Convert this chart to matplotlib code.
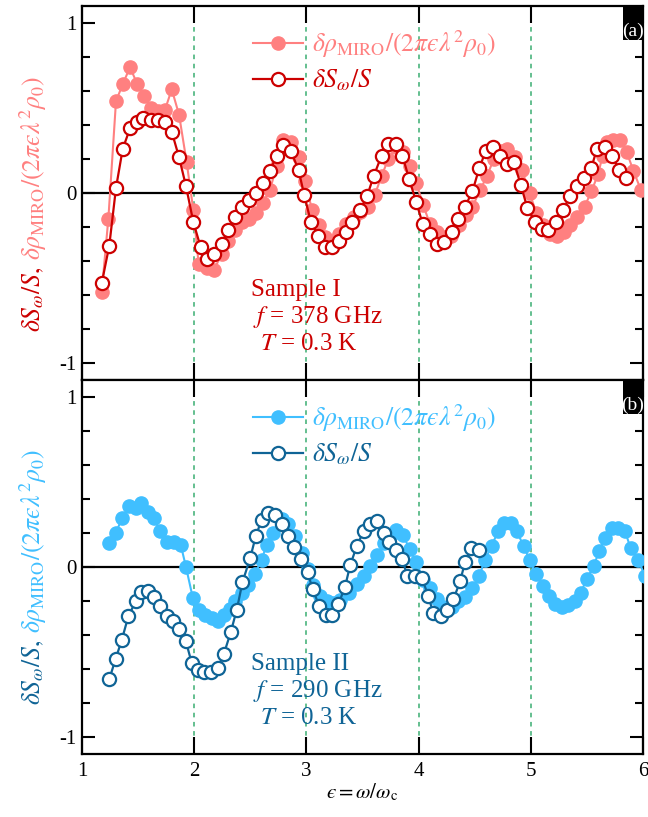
import matplotlib
matplotlib.use("Agg")
import matplotlib.pyplot as plt
from matplotlib.ticker import MultipleLocator, FixedLocator
from matplotlib.patches import Rectangle

plt.rcParams['font.family'] = ['Liberation Serif', 'DejaVu Serif']
plt.rcParams['mathtext.fontset'] = 'stix'

# ---------------- data: panel (a) ----------------
a_miro_x = [1.176, 1.235, 1.303, 1.363, 1.428, 1.493, 1.555, 1.615, 1.68, 1.74, 1.80, 1.865,
            1.933, 1.992, 2.04, 2.11, 2.177, 2.245, 2.304, 2.364, 2.423, 2.49, 2.55, 2.61,
            2.676, 2.735, 2.79, 2.86, 2.93, 2.99, 3.05, 3.11, 3.17, 3.23, 3.29, 3.35, 3.42,
            3.48, 3.55, 3.61, 3.67, 3.73, 3.80, 3.86, 3.92, 3.98, 4.04, 4.10, 4.16, 4.23,
            4.29, 4.36, 4.42, 4.48, 4.55, 4.61, 4.67, 4.73, 4.79, 4.86, 4.92, 4.99, 5.05,
            5.11, 5.17, 5.23, 5.30, 5.35, 5.41, 5.48, 5.54, 5.60, 5.64, 5.675, 5.735, 5.795,
            5.855, 5.915, 5.98]
a_miro_y = [-0.58, -0.15, 0.54, 0.64, 0.74, 0.64, 0.57, 0.50, 0.48, 0.49, 0.61, 0.46,
            0.18, -0.10, -0.42, -0.44, -0.45, -0.36, -0.28, -0.22, -0.17, -0.15, -0.12, -0.06,
            0.02, 0.16, 0.31, 0.30, 0.21, 0.07, -0.10, -0.19, -0.26, -0.28, -0.24, -0.18, -0.14,
            -0.11, -0.08, -0.01, 0.10, 0.20, 0.27, 0.24, 0.16, 0.06, -0.07, -0.18, -0.23, -0.26,
            -0.25, -0.19, -0.13, -0.08, 0.02, 0.10, 0.20, 0.25, 0.26, 0.21, 0.135, 0.0, -0.12,
            -0.19, -0.24, -0.25, -0.23, -0.19, -0.14, -0.08, 0.01, 0.11, 0.22, 0.30, 0.31, 0.31,
            0.24, 0.13, 0.02]

a_noise_x = [1.176, 1.243, 1.303, 1.363, 1.428, 1.487, 1.546, 1.612, 1.675, 1.74, 1.80, 1.865,
             1.927, 1.992, 2.058, 2.11, 2.177, 2.245, 2.304, 2.364, 2.423, 2.49, 2.55, 2.616,
             2.676, 2.735, 2.79, 2.86, 2.93, 2.98, 3.04, 3.106, 3.166, 3.225, 3.29, 3.353, 3.41,
             3.478, 3.54, 3.60, 3.67, 3.73, 3.795, 3.855, 3.917, 3.977, 4.036, 4.10, 4.16,
             4.225, 4.295, 4.354, 4.414, 4.48, 4.54, 4.60, 4.66, 4.725, 4.79, 4.85, 4.91, 4.97,
             5.04, 5.10, 5.155, 5.225, 5.29, 5.345, 5.41, 5.475, 5.54, 5.59, 5.66, 5.72, 5.79,
             5.85]
a_noise_y = [-0.53, -0.31, 0.03, 0.26, 0.38, 0.42, 0.44, 0.43, 0.43, 0.42, 0.36, 0.21,
             0.04, -0.17, -0.32, -0.39, -0.36, -0.30, -0.22, -0.14, -0.08, -0.04, 0.00, 0.06,
             0.13, 0.22, 0.28, 0.25, 0.135, -0.01, -0.17, -0.25, -0.32, -0.32, -0.28, -0.23, -0.17,
             -0.10, -0.02, 0.10, 0.22, 0.29, 0.29, 0.22, 0.08, -0.05, -0.18, -0.24, -0.30,
             -0.29, -0.23, -0.155, -0.08, 0.01, 0.145, 0.25, 0.27, 0.22, 0.17, 0.18, 0.05, -0.09,
             -0.17, -0.21, -0.22, -0.17, -0.10, -0.02, 0.04, 0.09, 0.15, 0.26, 0.27, 0.22, 0.135,
             0.09]

# ---------------- data: panel (b) ----------------
b_miro_x = [1.243, 1.30, 1.36, 1.42, 1.48, 1.53, 1.59, 1.64, 1.695, 1.76, 1.82, 1.88, 1.927,
            1.987, 2.04, 2.10, 2.155, 2.215, 2.265, 2.32, 2.364, 2.43, 2.48, 2.54, 2.60, 2.645,
            2.705, 2.78, 2.84, 2.90, 2.96, 3.01, 3.06, 3.12, 3.18, 3.24, 3.30, 3.38, 3.45, 3.51,
            3.565, 3.63, 3.69, 3.75, 3.80, 3.86, 3.92, 3.98, 4.04, 4.10, 4.16, 4.22, 4.295,
            4.355, 4.41, 4.48, 4.54, 4.59, 4.65, 4.71, 4.76, 4.82, 4.875, 4.935, 4.99, 5.045,
            5.11, 5.165, 5.22, 5.275, 5.335, 5.39, 5.445, 5.50, 5.56, 5.61, 5.66, 5.72, 5.78,
            5.84, 5.89, 5.955, 6.02]
b_miro_y = [0.14, 0.20, 0.29, 0.36, 0.35, 0.375, 0.325, 0.29, 0.21, 0.15, 0.15, 0.13, 0.00,
            -0.18, -0.25, -0.28, -0.30, -0.315, -0.28, -0.245, -0.20, -0.155, -0.105, -0.04, 0.04, 0.13,
            0.20, 0.28, 0.255, 0.18, 0.085, -0.01, -0.105, -0.17, -0.20, -0.21, -0.195, -0.15, -0.10, -0.05,
            0.005, 0.07, 0.14, 0.19, 0.22, 0.19, 0.105, 0.03, -0.075, -0.125, -0.19, -0.235, -0.235,
            -0.20, -0.175, -0.125, -0.055, 0.04, 0.125, 0.21, 0.26, 0.26, 0.21, 0.125, 0.04, -0.04,
            -0.11, -0.17, -0.215, -0.235, -0.225, -0.20, -0.15, -0.07, 0.005, 0.095, 0.17, 0.23, 0.23,
            0.21, 0.11, 0.04, -0.05]

b_noise_x = [1.243, 1.30, 1.354, 1.413, 1.48, 1.526, 1.585, 1.644, 1.695, 1.755, 1.81, 1.865,
             1.925, 1.978, 2.03, 2.09, 2.15, 2.21, 2.265, 2.325, 2.38, 2.43, 2.50, 2.55, 2.60,
             2.66, 2.72, 2.78, 2.84, 2.89, 2.95, 3.01, 3.056, 3.115, 3.175, 3.225, 3.285, 3.345,
             3.39, 3.45, 3.51, 3.565, 3.63, 3.69, 3.74, 3.80, 3.855, 3.90, 3.97, 4.03, 4.086,
             4.13, 4.20, 4.25, 4.31, 4.37, 4.414, 4.47, 4.535]
b_noise_y = [-0.66, -0.54, -0.43, -0.29, -0.20, -0.145, -0.14, -0.175, -0.23, -0.29, -0.32, -0.365,
             -0.435, -0.565, -0.605, -0.615, -0.62, -0.595, -0.51, -0.385, -0.25, -0.09, 0.055, 0.185, 0.275,
             0.32, 0.305, 0.255, 0.18, 0.12, 0.045, -0.03, -0.13, -0.23, -0.28, -0.28, -0.22, -0.115,
             0.01, 0.125, 0.21, 0.255, 0.27, 0.20, 0.15, 0.10, 0.045, -0.055, -0.055, -0.065, -0.17,
             -0.27, -0.29, -0.25, -0.19, -0.085, 0.03, 0.11, 0.10]

dash_x = [2, 3, 4, 5]
x_ticks = [1, 2, 3, 4, 5, 6]
y_ticks = [-1, 0, 1]

pink = '#ff8080'
dred = '#cc0000'
lblue = '#40bfff'
dblue = '#0f6496'
green = '#3aae72'

EPS = '\u03f5'
miro_label = r'$\delta\rho_{\rm MIRO}/(2\pi' + EPS + r'\lambda^2\rho_0)$'
noise_label = r'$\delta S_\omega/S$'

fig = plt.figure(figsize=(6.48, 8.17), dpi=100)
L, R = 82 / 648, 643 / 648
ya_top, mid, yb_bot = 1 - 6 / 817, 1 - 380 / 817, 1 - 754 / 817
axa = fig.add_axes([L, mid, R - L, ya_top - mid])
axb = fig.add_axes([L, yb_bot, R - L, mid - yb_bot])

panels = [
    (axa, a_miro_x, a_miro_y, a_noise_x, a_noise_y, pink, dred, '(a)',
     ['Sample I', r'$f$ = 378 GHz', r'$T$ = 0.3 K']),
    (axb, b_miro_x, b_miro_y, b_noise_x, b_noise_y, lblue, dblue, '(b)',
     ['Sample II', r'$f$ = 290 GHz', r'$T$ = 0.3 K']),
]

for ax, mx, my, nx, ny, c1, c2, tag, txt in panels:
    ax.set_xlim(1, 6)
    ax.set_ylim(-1.1, 1.1)
    for xv in dash_x:
        ax.axvline(xv, color=green, lw=1.1, ls=(0, (3, 3)), zorder=1)
    ax.axhline(0, color='black', lw=1.6, zorder=2)
    l1, = ax.plot(mx, my, '-o', color=c1, lw=1.5, ms=9.5, mfc=c1, mec=c1, zorder=3,
                  label=miro_label)
    l2, = ax.plot(nx, ny, '-o', color=c2, lw=1.6, ms=9.5, mfc='white', mec=c2, mew=1.6,
                  zorder=4, label=noise_label)
    leg = ax.legend(handles=[l1, l2], loc='upper left', bbox_to_anchor=(0.305, 0.94),
                    frameon=False, fontsize=18.5, handlelength=1.95, handletextpad=0.35,
                    labelspacing=0.3, borderaxespad=0, borderpad=0)
    for t, c in zip(leg.get_texts(), [c1, c2]):
        t.set_color(c)
    ax.xaxis.set_major_locator(FixedLocator(x_ticks))
    ax.yaxis.set_major_locator(FixedLocator(y_ticks))
    ax.yaxis.set_minor_locator(MultipleLocator(0.2))
    ax.tick_params(axis='x', which='major', direction='in', length=12, width=1.5,
                   top=True, bottom=True, labelsize=15, pad=6)
    ax.tick_params(axis='y', which='major', direction='in', length=9.5, width=1.5,
                   left=True, right=True, labelsize=15, pad=4)
    ax.tick_params(axis='y', which='minor', direction='in', length=6, width=1.5,
                   left=True, right=True)
    for s in ax.spines.values():
        s.set_linewidth(1.6)
    ax.set_yticklabels(['-1', '0', '1'])
    ax.text(0.302, 0.241, txt[0], transform=ax.transAxes, fontsize=18, color=c2, va='center')
    ax.text(0.305, 0.168, txt[1], transform=ax.transAxes, fontsize=18, color=c2, va='center')
    ax.text(0.318, 0.096, txt[2], transform=ax.transAxes, fontsize=18, color=c2, va='center')
    ax.add_patch(Rectangle((0.9643, 0.909), 0.0357, 0.091, transform=ax.transAxes,
                           fc='black', ec='none', zorder=6, clip_on=False))
    ax.text(0.982, 0.933, tag, transform=ax.transAxes, fontsize=14, color='white',
            ha='center', va='center', zorder=7)

axa.tick_params(axis='x', labelbottom=False)
axb.set_xlabel(r'$' + EPS + r' = \omega/\omega_{\rm c}$', fontsize=15, labelpad=0)

# two-coloured y labels
fig.canvas.draw()
rend = fig.canvas.get_renderer()
xl = 33 / 648
for ybot, c1, c2 in [(1 - 332 / 817, pink, dred), (1 - 705 / 817, lblue, dblue)]:
    t1 = fig.text(xl, ybot, noise_label[:-1] + r',$', rotation=90, fontsize=18.5, color=c2,
                  ha='center', va='bottom')
    bb = t1.get_window_extent(rend)
    ytop = (bb.y1 + 7) / fig.bbox.height
    fig.text(xl, ytop, miro_label, rotation=90, fontsize=18.5, color=c1,
             ha='center', va='bottom')

fig.savefig('out.png', dpi=100)
